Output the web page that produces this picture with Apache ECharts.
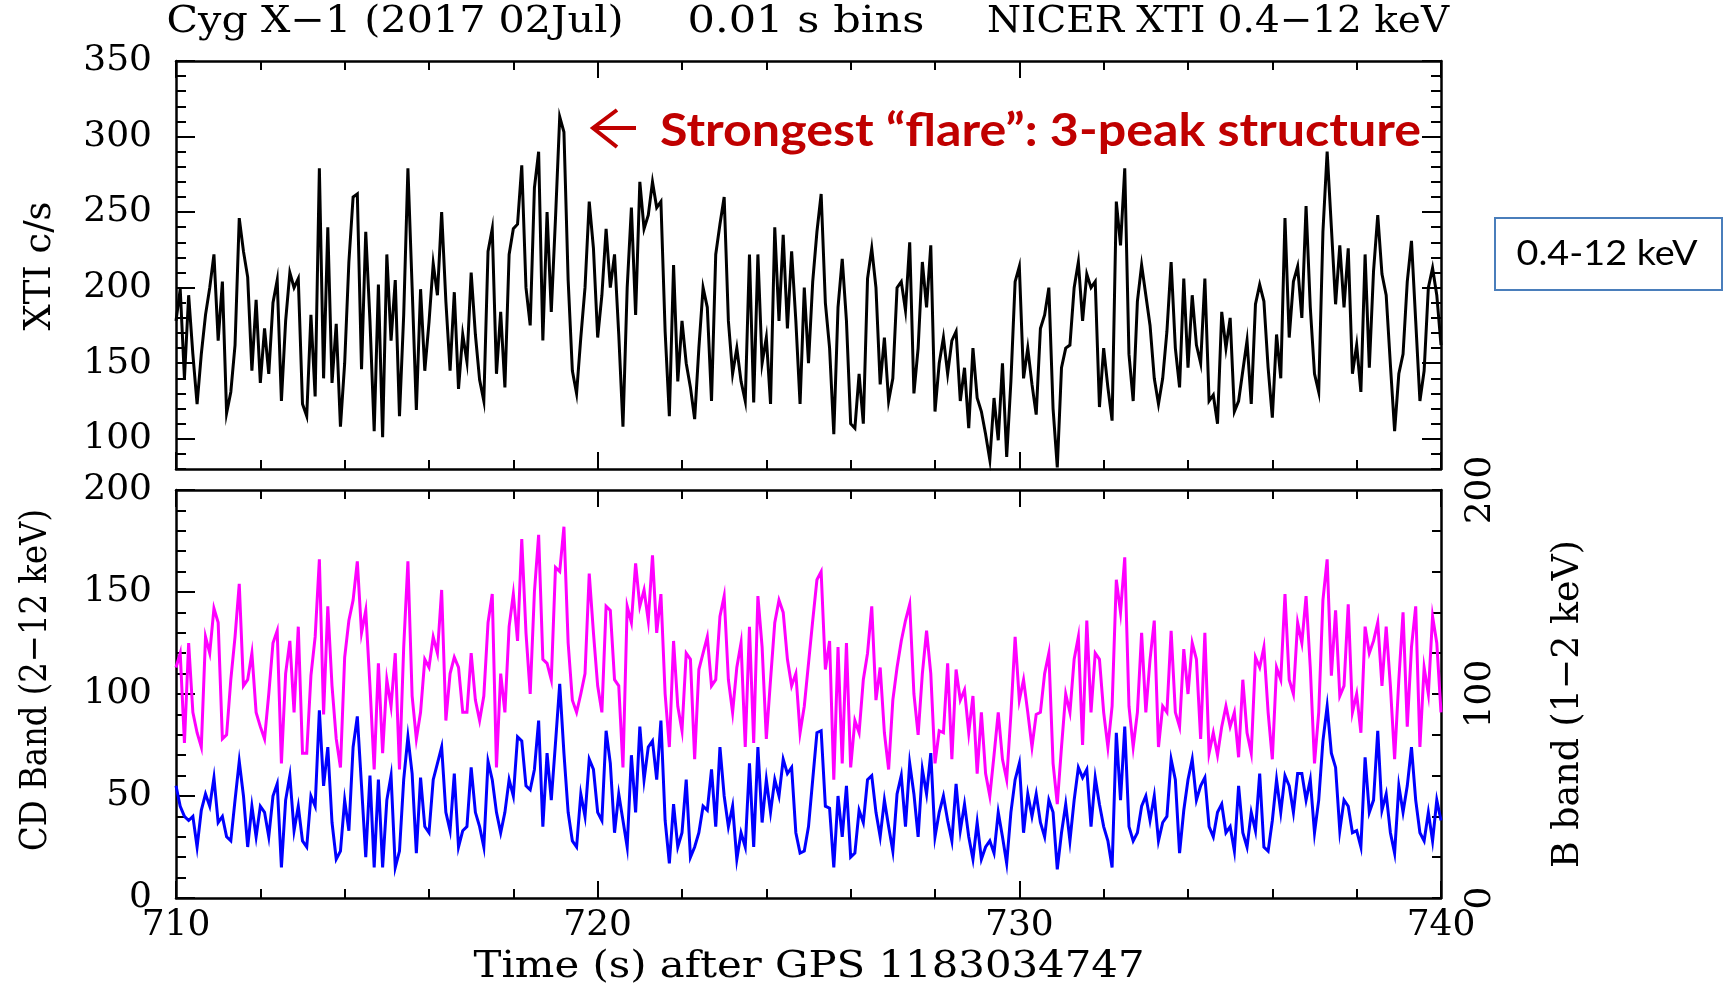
<!DOCTYPE html>
<html>
<head>
<meta charset="utf-8">
<script src="https://cdn.jsdelivr.net/npm/echarts@6/dist/echarts.min.js"></script>
<style>
  html, body { margin: 0; padding: 0; background: #ffffff; }
  #chart { width: 1727px; height: 985px; }
</style>
</head>
<body>
<div id="chart"></div>
<script>
// Light curve sampling: first bin time and bin step (s)
const T0 = 710;
const DT = 0.1;

// NICER XTI 0.4-12 keV count rate (c/s)
const xtiRate = [
  178,199,140,195,156,123,156,182,200,222,165,204,117,131,162,246,224,207,145,192,
  137,173,143,190,205,125,178,210,200,206,123,115,182,128,279,140,240,137,176,108,
  150,217,260,262,146,237,178,105,202,101,222,165,205,115,182,279,200,119,199,145,
  177,216,195,250,191,145,197,133,169,151,210,169,139,125,224,239,143,184,134,222,
  239,242,281,200,175,266,290,165,250,184,246,313,303,205,145,130,167,200,257,226,
  167,195,239,200,222,169,108,200,253,182,270,239,248,270,253,257,171,115,215,138,
  178,150,134,113,160,200,187,125,222,242,260,178,143,160,138,125,222,124,222,150,
  167,123,240,178,235,173,224,178,123,200,150,204,237,262,190,160,103,187,219,178,
  110,107,143,110,206,226,200,136,167,125,140,200,204,185,230,130,160,217,187,228,
  118,150,167,143,165,171,125,147,107,160,127,118,103,86,127,99,150,88,138,204,
  214,140,160,136,116,173,182,200,120,81,147,160,162,200,217,178,209,200,204,121,
  160,134,112,257,228,279,156,125,191,215,195,175,140,123,140,171,217,160,134,206,
  147,195,162,150,206,125,129,110,184,160,180,118,125,145,165,123,189,202,191,147,
  114,169,140,246,167,204,214,180,254,187,143,131,237,290,240,189,228,187,226,143,
  162,131,222,147,211,248,209,195,149,105,143,156,204,231,178,125,145,200,213,195,
  162
];

// B band (1-2 keV) rate, magenta, right axis
const bBand = [
  113,120,76,125,91,81,74,128,120,142,135,78,80,107,128,154,104,107,120,91,
  84,78,100,125,131,66,110,126,91,133,71,71,109,128,166,90,143,104,78,64,
  118,136,146,165,130,141,104,63,115,71,107,94,120,63,123,165,99,78,91,117,
  113,128,120,151,87,110,118,113,91,91,120,97,87,99,135,149,64,110,91,133,
  149,126,176,130,100,150,178,117,115,107,162,160,182,125,97,91,100,110,159,130,
  104,91,143,141,107,104,64,143,135,164,143,151,136,168,130,149,100,74,126,94,
  82,120,117,68,112,120,128,104,107,138,148,107,91,113,125,74,133,76,148,123,
  78,107,135,146,140,117,104,110,81,94,115,136,156,160,112,126,58,123,66,125,
  64,87,81,107,120,143,97,113,81,63,97,113,126,136,144,100,80,110,131,110,
  66,82,81,115,68,112,97,102,81,99,61,91,61,50,70,91,68,58,90,128,
  97,107,91,74,90,91,110,120,66,46,74,100,91,117,128,75,136,91,120,117,
  91,74,94,156,140,167,94,74,91,130,91,117,136,74,94,91,131,91,84,122,
  100,125,117,78,130,71,81,70,84,94,84,91,69,107,81,71,118,113,123,91,
  68,113,107,149,107,100,135,125,148,113,66,91,146,166,109,141,99,104,144,91,
  100,81,133,120,126,135,104,133,104,68,107,140,84,123,143,74,113,100,138,125,
  91
];

// CD band (2-12 keV) rate, blue, left axis
const cdBand = [
  55,45,40,38,40,25,43,51,45,59,37,40,30,28,48,67,50,25,45,30,
  45,42,30,50,56,15,48,60,33,45,28,25,50,45,92,55,74,37,19,23,
  48,33,74,89,55,20,60,15,58,15,48,60,15,23,58,79,61,22,59,35,
  32,58,66,74,42,33,61,25,33,35,64,42,35,25,67,58,42,32,42,58,
  50,79,77,55,53,63,87,35,71,48,76,105,71,42,28,25,51,40,68,63,
  42,38,82,66,32,51,38,25,70,42,84,58,74,77,58,87,38,17,46,25,
  32,58,20,25,32,45,43,63,35,74,50,35,45,19,32,25,66,25,74,37,
  58,42,58,50,68,61,64,32,22,23,35,58,81,82,45,44,15,50,30,55,
  20,22,43,37,58,60,42,30,48,35,23,51,60,35,66,51,30,63,51,71,
  30,42,50,38,28,56,33,46,30,19,37,19,25,28,22,42,30,17,42,58,
  66,32,51,40,51,37,30,48,42,14,32,46,28,48,64,59,63,35,59,46,
  35,28,15,81,48,84,35,28,32,45,50,38,50,28,37,40,68,58,22,43,
  58,68,48,55,59,35,30,42,46,32,35,23,55,32,25,42,33,61,25,23,
  38,58,42,60,55,42,61,61,48,58,32,48,77,94,71,64,33,48,45,32,
  33,25,69,42,48,82,43,51,32,22,55,42,55,74,48,32,28,42,28,48,
  38
];

// Axis ranges and tick values
const timeRange = [710, 740];
const xtiRange = [80, 350];
const xtiMajorTicks = [100, 150, 200, 250, 300, 350];
const bandRange = [0, 200];

const toPoints = arr => arr.map((v, i) => [Math.round((T0 + i * DT) * 100) / 100, v]);

const SERIF = '"DejaVu Serif", "Liberation Serif", serif';
const AXIS_FONT = 36;
const INK = '#000000';
const TRACE_W = 3;

// Horizontal stretch so that a string spans a given width
const measureCtx = document.createElement('canvas').getContext('2d');
function stretchFor(text, font, width) {
  measureCtx.font = font;
  return width / measureCtx.measureText(text).width;
}
function textItem(text, x, y, width, o) {
  const font = (o.weight || 'normal') + ' ' + o.size + 'px ' + o.family;
  return {
    type: 'text', x: x, y: y, rotation: o.rot || 0, z: 100,
    scaleX: stretchFor(text, font, width),
    style: {
      text: text, font: font, fill: o.color || INK,
      align: o.align || 'center', verticalAlign: 'middle'
    }
  };
}

const lineW = 2.5;
function timeAxis(gridIndex, position, showLabels) {
  return {
    type: 'value', gridIndex: gridIndex, position: position,
    min: timeRange[0], max: timeRange[1], interval: 10,
    axisLine: { show: true, onZero: false, lineStyle: { color: INK, width: lineW } },
    axisTick: { show: true, inside: true, length: 17, lineStyle: { color: INK, width: 2 } },
    minorTick: { show: true, splitNumber: 5, length: 9, lineStyle: { color: INK, width: 2 } },
    axisLabel: { show: showLabels, margin: 10, color: INK, fontFamily: SERIF, fontSize: AXIS_FONT },
    splitLine: { show: false }, minorSplitLine: { show: false }
  };
}

const yAxes = [
  // top panel, left: fine ticks every 10 c/s
  { type: 'value', gridIndex: 0, position: 'left', min: xtiRange[0], max: xtiRange[1], interval: 10,
    axisLine: { show: true, onZero: false, lineStyle: { color: INK, width: lineW } },
    axisTick: { show: true, inside: true, length: 10, lineStyle: { color: INK, width: 2 } },
    axisLabel: { show: false }, splitLine: { show: false } },
  // top panel, left: major ticks and labels
  { type: 'value', gridIndex: 0, position: 'left', min: xtiRange[0], max: xtiRange[1],
    axisLine: { show: false },
    axisTick: { show: true, inside: true, length: 19, customValues: xtiMajorTicks, lineStyle: { color: INK, width: 2 } },
    axisLabel: { show: true, customValues: xtiMajorTicks, margin: 24, color: INK, fontFamily: SERIF, fontSize: AXIS_FONT },
    splitLine: { show: false } },
  // top panel, right: fine ticks
  { type: 'value', gridIndex: 0, position: 'right', min: xtiRange[0], max: xtiRange[1], interval: 10,
    axisLine: { show: true, onZero: false, lineStyle: { color: INK, width: lineW } },
    axisTick: { show: true, inside: true, length: 10, lineStyle: { color: INK, width: 2 } },
    axisLabel: { show: false }, splitLine: { show: false } },
  // top panel, right: major ticks
  { type: 'value', gridIndex: 0, position: 'right', min: xtiRange[0], max: xtiRange[1],
    axisLine: { show: false },
    axisTick: { show: true, inside: true, length: 19, customValues: xtiMajorTicks, lineStyle: { color: INK, width: 2 } },
    axisLabel: { show: false }, splitLine: { show: false } },
  // bottom panel, left: CD band
  { type: 'value', gridIndex: 1, position: 'left', min: bandRange[0], max: bandRange[1], interval: 50,
    axisLine: { show: true, onZero: false, lineStyle: { color: INK, width: lineW } },
    axisTick: { show: true, inside: true, length: 19, lineStyle: { color: INK, width: 2 } },
    minorTick: { show: true, splitNumber: 5, length: 10, lineStyle: { color: INK, width: 2 } },
    axisLabel: { show: true, margin: 24, color: INK, fontFamily: SERIF, fontSize: AXIS_FONT },
    splitLine: { show: false }, minorSplitLine: { show: false } },
  // bottom panel, right: B band
  { type: 'value', gridIndex: 1, position: 'right', min: bandRange[0], max: bandRange[1], interval: 100,
    axisLine: { show: true, onZero: false, lineStyle: { color: INK, width: lineW } },
    axisTick: { show: true, inside: true, length: 9, lineStyle: { color: INK, width: 2 } },
    minorTick: { show: true, splitNumber: 5, length: 9, lineStyle: { color: INK, width: 2 } },
    axisLabel: { show: true, rotate: 90, margin: 22, color: INK, fontFamily: SERIF, fontSize: AXIS_FONT },
    splitLine: { show: false }, minorSplitLine: { show: false } }
];

const graphics = [
  textItem('Cyg X\u22121 (2017 02Jul)', 395, 22, 457, { size: 37, family: SERIF }),
  textItem('0.01 s bins', 806, 22, 237, { size: 37, family: SERIF }),
  textItem('NICER XTI 0.4\u221212 keV', 1218, 22, 462, { size: 37, family: SERIF }),
  textItem('XTI c/s', 40, 266, 129, { size: 37, family: SERIF, rot: Math.PI / 2 }),
  textItem('CD Band (2\u221212 keV)', 36, 680, 342, { size: 37, family: SERIF, rot: Math.PI / 2 }),
  textItem('B band (1\u22122 keV)', 1568, 704, 328, { size: 37, family: SERIF, rot: Math.PI / 2 }),
  textItem('Time (s) after GPS 1183034747', 809, 967, 671, { size: 37, family: SERIF }),
  // annotation arrow and caption
  { type: 'polyline', z: 100, shape: { points: [[617, 110], [593, 128], [617, 147]] },
    style: { stroke: '#C00000', lineWidth: 4, fill: null } },
  { type: 'line', z: 100, shape: { x1: 594, y1: 128, x2: 636, y2: 128 },
    style: { stroke: '#C00000', lineWidth: 4 } },
  textItem('Strongest \u201cflare\u201d: 3-peak structure', 660, 131, 761,
    { size: 46, family: 'Lato, "Open Sans", sans-serif', weight: 'bold', color: '#C00000', align: 'left' }),
  // band legend box
  { type: 'rect', z: 100, shape: { x: 1495, y: 218, width: 227, height: 72 },
    style: { fill: '#ffffff', stroke: '#4A7EBB', lineWidth: 2 } },
  textItem('0.4-12 keV', 1607, 254, 181, { size: 34, family: 'Lato, "Open Sans", sans-serif' })
];

const chart = echarts.init(document.getElementById('chart'), null, { renderer: 'canvas' });
chart.setOption({
  backgroundColor: '#ffffff',
  animation: false,
  grid: [
    { left: 176, top: 61, width: 1265, height: 408, containLabel: false },
    { left: 176, top: 490, width: 1265, height: 408, containLabel: false }
  ],
  xAxis: [
    timeAxis(0, 'bottom', false),
    timeAxis(0, 'top', false),
    timeAxis(1, 'bottom', true),
    timeAxis(1, 'top', false)
  ],
  yAxis: yAxes,
  series: [
    { name: 'XTI 0.4-12 keV', type: 'line', xAxisIndex: 0, yAxisIndex: 0, data: toPoints(xtiRate),
      showSymbol: false, lineStyle: { color: '#000000', width: TRACE_W, join: 'miter' }, z: 3 },
    { name: 'B band (1-2 keV)', type: 'line', xAxisIndex: 2, yAxisIndex: 5, data: toPoints(bBand),
      showSymbol: false, lineStyle: { color: '#FF00FF', width: TRACE_W, join: 'miter' }, z: 3 },
    { name: 'CD band (2-12 keV)', type: 'line', xAxisIndex: 2, yAxisIndex: 4, data: toPoints(cdBand),
      showSymbol: false, lineStyle: { color: '#0000FF', width: TRACE_W, join: 'miter' }, z: 4 }
  ],
  graphic: graphics
});
</script>
</body>
</html>
